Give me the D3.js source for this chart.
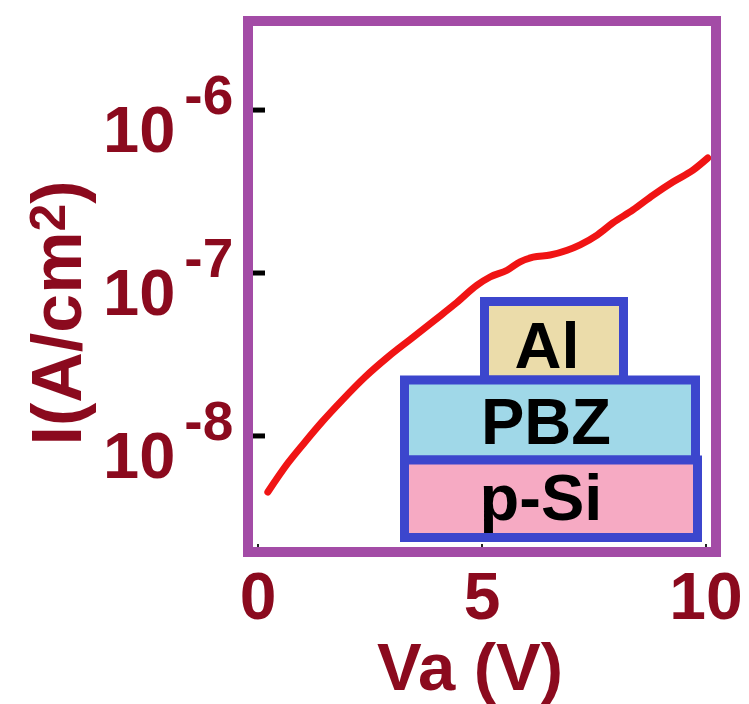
<!DOCTYPE html>
<html>
<head>
<meta charset="utf-8">
<script src="https://cdn.jsdelivr.net/npm/d3@7"></script>
<style>
  html, body { margin: 0; padding: 0; background: #ffffff; }
  svg { display: block; }
  text { font-family: "Liberation Sans", Arial, Helvetica, sans-serif; font-weight: bold; }
</style>
</head>
<body>
<svg id="chart" width="749" height="704"></svg>
<script>
// Current density vs applied voltage for an Al / PBZ / p-Si structure
const voltage = [0.22, 0.67, 1.05, 1.43, 1.88, 2.39, 2.90, 3.44, 3.95, 4.40, 4.89, 5.18,
                 5.56, 5.85, 6.14, 6.52, 6.90, 7.19, 7.57, 7.92, 8.37, 8.82, 9.26, 9.71, 10.04];
const current = [4.53e-9, 6.83e-9, 9.19e-9, 1.22e-8, 1.66e-8, 2.30e-8, 3.05e-8, 3.99e-8, 5.15e-8,
                 6.46e-8, 8.43e-8, 9.45e-8, 1.04e-7, 1.17e-7, 1.25e-7, 1.29e-7, 1.38e-7,
                 1.49e-7, 1.71e-7, 2.03e-7, 2.44e-7, 3.01e-7, 3.62e-7, 4.28e-7, 5.08e-7];

const xTicks = [0, 5, 10];
const xTickLabels = ["0", "5", "10"];
const yTickExponents = [-6, -7, -8];
const xDomain = [-0.223, 10.223];
const yDomain = [1.94e-9, 3.52e-6];
const xTitle = "Va (V)";
const layerNames = ["Al", "PBZ", "p-Si"];

const svg = d3.select("#chart");
const textColor = "#8b0a1e";

const plot = { left: 248, right: 716, top: 21, bottom: 552 };

const x = d3.scaleLinear().domain(xDomain).range([plot.left, plot.right]);
const y = d3.scaleLog().domain(yDomain).range([plot.bottom, plot.top]);

// clip the curve to the plotting frame
svg.append("clipPath").attr("id", "plotClip")
  .append("rect")
  .attr("x", plot.left).attr("y", plot.top)
  .attr("width", plot.right - plot.left).attr("height", plot.bottom - plot.top);

// y ticks (inside, left)
svg.append("g").selectAll("line")
  .data(yTickExponents)
  .join("line")
  .attr("x1", plot.left).attr("x2", plot.left + 17)
  .attr("y1", d => y(Math.pow(10, d))).attr("y2", d => y(Math.pow(10, d)))
  .attr("stroke", "#000").attr("stroke-width", 5);

// x ticks (inside, bottom)
svg.append("g").selectAll("line")
  .data(xTicks)
  .join("line")
  .attr("x1", d => x(d)).attr("x2", d => x(d))
  .attr("y1", plot.bottom).attr("y2", plot.bottom - 8)
  .attr("stroke", "#222").attr("stroke-width", 2);

// I-V curve
const line = d3.line()
  .x(d => x(d[0]))
  .y(d => y(d[1]))
  .curve(d3.curveMonotoneX);

svg.append("path")
  .datum(voltage.map((v, i) => [v, current[i]]))
  .attr("clip-path", "url(#plotClip)")
  .attr("d", line)
  .attr("fill", "none")
  .attr("stroke", "#f01414")
  .attr("stroke-width", 7)
  .attr("stroke-linecap", "round")
  .attr("stroke-linejoin", "round");

// device stack inset
const inset = svg.append("g");
const layerBoxes = [
  { x0: 484.5, x1: 623.5, y0: 301.5, y1: 380, fill: "#ebdcaa", tx: 547, ty: 368 },
  { x0: 404.5, x1: 695.5, y0: 380, y1: 460, fill: "#a0d8e8", tx: 546, ty: 444 },
  { x0: 404.5, x1: 697.5, y0: 460, y1: 537.5, fill: "#f6aac3", tx: 541, ty: 520 }
];
inset.selectAll("rect")
  .data(layerBoxes)
  .join("rect")
  .attr("x", d => d.x0).attr("y", d => d.y0)
  .attr("width", d => d.x1 - d.x0).attr("height", d => d.y1 - d.y0)
  .attr("fill", d => d.fill)
  .attr("stroke", "#3c46cd").attr("stroke-width", 9);
inset.selectAll("text")
  .data(layerBoxes)
  .join("text")
  .attr("x", d => d.tx).attr("y", d => d.ty)
  .attr("text-anchor", "middle")
  .attr("font-size", 65)
  .attr("fill", "#000")
  .text((d, i) => layerNames[i]);

// plot frame
svg.append("rect")
  .attr("x", plot.left).attr("y", plot.top)
  .attr("width", plot.right - plot.left).attr("height", plot.bottom - plot.top)
  .attr("fill", "none")
  .attr("stroke", "#a34ca6")
  .attr("stroke-width", 10);

// y tick labels: 10^n
const yLab = svg.append("g").selectAll("text")
  .data(yTickExponents)
  .join("text")
  .attr("x", 103)
  .attr("y", d => y(Math.pow(10, d)) + 42)
  .attr("fill", textColor);
yLab.append("tspan").attr("font-size", 65).text("10");
yLab.append("tspan").attr("font-size", 55).attr("dx", 9).attr("dy", -38)
  .text(d => "-" + Math.abs(d));

// x tick labels
svg.append("g").selectAll("text")
  .data(xTicks)
  .join("text")
  .attr("x", d => x(d))
  .attr("y", 619)
  .attr("text-anchor", "middle")
  .attr("font-size", 66)
  .attr("fill", textColor)
  .text((d, i) => xTickLabels[i]);

// axis titles
svg.append("text")
  .attr("x", 470).attr("y", 690)
  .attr("text-anchor", "middle")
  .attr("font-size", 67)
  .attr("fill", textColor)
  .text(xTitle);

const yTitle = svg.append("text")
  .attr("transform", "translate(81,313) rotate(-90)")
  .attr("text-anchor", "middle")
  .attr("font-size", 70)
  .attr("fill", textColor);
yTitle.append("tspan").text("I(A/cm");
yTitle.append("tspan").attr("font-size", 50).attr("dy", -16).text("2");
yTitle.append("tspan").attr("dy", 16).text(")");
</script>
</body>
</html>
